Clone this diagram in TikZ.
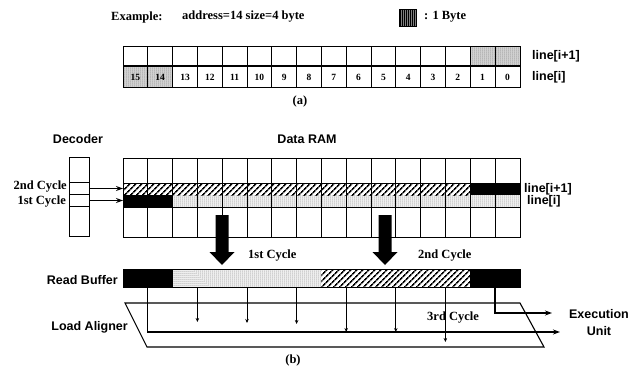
\documentclass[tikz,border=0pt]{standalone}
\usepackage{fontspec}
\setmainfont{Liberation Serif}
\setsansfont{Liberation Sans}
\usetikzlibrary{arrows.meta,patterns,patterns.meta,positioning}

\begin{document}
\begin{tikzpicture}[x=1pt, y=-1pt,
    lbl/.style={font=\sffamily\bfseries\fontsize{12.5}{17}\selectfont, inner sep=0pt},
    cyc/.style={font=\bfseries\fontsize{12.5}{15}\selectfont, inner sep=0pt},
    num/.style={font=\bfseries\fontsize{9.5}{10}\selectfont, inner sep=0pt},
    frame/.style={draw, line width=1.3pt, inner sep=0pt, anchor=north west},
    grid line/.style={line width=0.8pt},
    stipple/.style={pattern={Dots[radius=0.5pt,distance=2pt]}, pattern color=black!80},
    hatch/.style={pattern={Lines[angle=45,distance=4pt,line width=1.7pt]}},
    arrow/.style={-{Stealth[length=7pt,width=5pt]}, line width=1.2pt},
    small arrow/.style={-{Stealth[length=4pt,width=3.5pt]}, line width=0.9pt}
]
\useasboundingbox (0,0) rectangle (643,373);

% (a) Example
\node[cyc, anchor=west] (ex) at (111,17) {Example:};
\node[cyc, anchor=west] (addr) at (182,17) {address=14 size=4 byte};
\node[frame, minimum width=17, minimum height=17, fill=black!50, line width=0.6pt] (key) at (399,9) {};
\fill[pattern={Lines[angle=90,distance=2pt,line width=0.6pt]}] (key.north west) rectangle (key.south east);
\node[cyc, anchor=west] (keytxt) at (424,17) {: 1 Byte};

% (a) Line table
\fill[black!12] (123,66) rectangle ({123+2*24.8},87);
\fill[black!12] ({123+14*24.8},46) rectangle ({123+16*24.8},66);
\fill[stipple] (123,66) rectangle ({123+2*24.8},87);
\fill[stipple] ({123+14*24.8},46) rectangle ({123+16*24.8},66);
\node[frame, minimum width=396.8, minimum height=41] (tab) at (123,46) {};
\draw[line width=1.1pt] (tab.west |- 0,66) -- (tab.east |- 0,66);
\foreach \k in {1,...,15} {
  \pgfmathsetmacro{\lw}{ifthenelse(mod(\k,4)==0,1.3,0.7)}
  \draw[line width=\lw pt] ({123+\k*24.8},46) -- ({123+\k*24.8},87);
}
\foreach \k in {0,...,15} {
  \pgfmathtruncatemacro{\b}{15-\k}
  \node[num] (n\b) at ({123+(\k+0.5)*24.8},77) {\b};
}
\node[lbl, anchor=west] (ta1) at (532,56) {line[i+1]};
\node[lbl, anchor=west] (ta0) at (532,77) {line[i]};
\node[cyc] (capa) at (300,101) {(a)};

% (b) Decoder
\node[lbl] (dectxt) at (78,139) {Decoder};
\node[frame, minimum width=20, minimum height=79, line width=0.9pt] (dec) at (69,157) {};
\foreach \y in {182,194,206}
  \draw[grid line] (dec.west |- 0,\y) -- (dec.east |- 0,\y);
\node[cyc, anchor=east] (c2) at (67,187) {2nd Cycle};
\node[cyc, anchor=east] (c1) at (66,202) {1st Cycle};

% Data RAM
\node[lbl] (ramtxt) at (307,139) {Data RAM};
\fill[hatch] (123,183) rectangle ({123+14*24.8},195);
\fill[black] ({123+14*24.8},183) rectangle ({123+16*24.8},195);
\fill[black] (123,195) rectangle ({123+2*24.8},207);
\fill[stipple] ({123+2*24.8},195) rectangle ({123+16*24.8},207);
\node[frame, minimum width=396.8, minimum height=79] (ram) at (123,158) {};
\foreach \k in {1,...,15}
  \draw[grid line] ({123+\k*24.8},158) -- ({123+\k*24.8},237);
\draw[grid line] (ram.west |- 0,183) -- (ram.east |- 0,183);
\draw[grid line] (ram.west |- 0,207) -- (ram.east |- 0,207);
\node[lbl, anchor=west] (tb1) at (524,189) {line[i+1]};
\node[lbl, anchor=west] (tb0) at (527,201) {line[i]};

% Decoder to RAM
\draw[arrow] (dec.east |- 0,188.5) -- (ram.west |- 0,188.5);
\draw[arrow] (dec.east |- 0,200.5) -- (ram.west |- 0,200.5);

% Read cycles
\foreach \x in {222,385}
  \fill (\x-6.5,215) -- (\x+6.5,215) -- (\x+6.5,252) -- (\x+12.5,252)
        -- (\x,265) -- (\x-12.5,252) -- (\x-6.5,252) -- cycle;
\node[cyc, anchor=west] (r1) at (248,256) {1st Cycle};
\node[cyc, anchor=west] (r2) at (418,256) {2nd Cycle};

% Read Buffer
\fill[black] (123,269) rectangle ({123+2*24.8},287);
\fill[stipple] ({123+2*24.8},269) rectangle ({123+8*24.8},287);
\fill[hatch] ({123+8*24.8},269) rectangle ({123+14*24.8},287);
\fill[black] ({123+14*24.8},269) rectangle ({123+16*24.8},287);
\node[frame, minimum width=396.8, minimum height=18] (rbuf) at (123,269) {};
\node[lbl, anchor=east] (rbtxt) at (118,280) {Read Buffer};

% Load Aligner
\coordinate (la1) at (125,303);
\coordinate (la2) at (520,303);
\coordinate (la3) at (544,347);
\coordinate (la4) at (147,347);
\draw[line width=1.1pt] (la1) -- (la2) -- (la3) -- (la4) -- cycle;
\node[lbl, anchor=east] (latxt) at (128,327) {Load Aligner};
\node[cyc, anchor=west] (r3) at (427,318) {3rd Cycle};

% Execution Unit
\node[lbl, align=center] (exec) at (599,323) {Execution\\Unit};
\coordinate (out1) at (552,313);
\coordinate (out2) at (560,332);
\draw[arrow] ({123+1*24.8},287) |- (out2);
\draw[arrow] ({123+15*24.8},287) |- (out1);
\foreach \k/\e in {3/322,5/323,7/324,9/332,11/332,13/342}
  \draw[small arrow] ({123+\k*24.8},287) -- ({123+\k*24.8},\e);

\node[cyc] (capb) at (293,360) {(b)};
\end{tikzpicture}
\end{document}
